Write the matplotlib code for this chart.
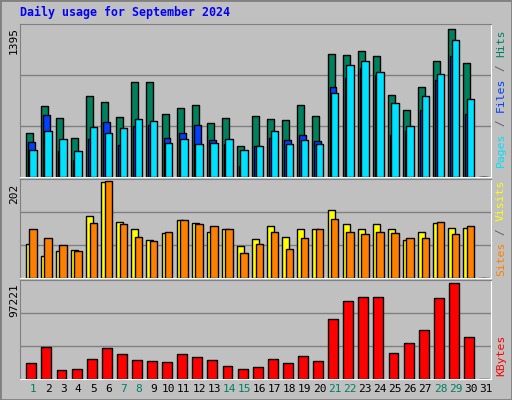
import numpy as np
import matplotlib
matplotlib.use("Agg")
import matplotlib.pyplot as plt
from matplotlib.patches import Rectangle

days = list(range(1, 32))
hits = [418, 674, 560, 370, 769, 712, 569, 892, 892, 598, 655, 683, 512, 560, 294,
        579, 550, 541, 683, 579, 1158, 1148, 1186, 1139, 778, 636, 854, 1091, 1395, 1072, 0]
files = [256, 436, 361, 247, 474, 418, 465, 550, 531, 323, 361, 313, 323, 361, 256,
         294, 436, 313, 351, 313, 797, 1053, 1091, 987, 702, 484, 769, 968, 1290, 740, 0]
pages = [332, 588, 247, 161, 361, 522, 304, 484, 493, 370, 418, 493, 351, 313, 104,
         294, 370, 351, 399, 342, 845, 930, 1025, 958, 399, 436, 636, 911, 1139, 598, 0]
visits = [70, 46, 57, 59, 129, 199, 116, 103, 79, 94, 120, 114, 96, 101, 66,
          81, 109, 85, 101, 103, 142, 112, 101, 112, 101, 79, 96, 114, 105, 105, 0]
sites = [103, 83, 68, 57, 114, 202, 112, 85, 77, 96, 120, 112, 109, 101, 52,
         70, 96, 61, 83, 101, 122, 96, 92, 96, 94, 83, 83, 116, 92, 109, 0]
kbytes = [16376, 32396, 8900, 9968, 20648, 31328, 24920, 19580, 18512, 17444, 24920,
          22784, 19580, 13172, 9968, 12104, 20648, 16376, 23852, 18512, 61232, 79388,
          83660, 83660, 25988, 36668, 49484, 82592, 97221, 43076, 0]
weekend = [1, 7, 8, 14, 15, 21, 22, 28, 29]

W, H = 512, 400
BG = "#C0C0C0"
MONO = "DejaVu Sans Mono"
fig = plt.figure(figsize=(W / 100, H / 100), dpi=100, facecolor=BG)

# outer bevel
fig.patches.append(Rectangle((0, 0), 1, 1, transform=fig.transFigure, fill=False,
                             edgecolor="#808080", linewidth=2))


def px_axes(x0, y0, x1, y1):
    return fig.add_axes([x0 / W, 1 - y1 / H, (x1 - x0) / W, (y1 - y0) / H])


x = np.array(days, dtype=float)
xlim = (0.139, 31.35)


def style(ax, top):
    ax.set_facecolor(BG)
    ax.set_xlim(*xlim)
    ax.set_ylim(0, top * 1.0)
    ax.set_xticks([])
    ax.set_yticks([])
    for s in ("top", "left"):
        ax.spines[s].set_color("#808080")
    for s in ("bottom", "right"):
        ax.spines[s].set_color("white")
    for f in (1 / 3, 2 / 3):
        ax.axhline(top * f, color="#808080", lw=1, zorder=0)


bar_kw = dict(edgecolor="black", linewidth=1, align="edge", zorder=2)

# top panel
ax1 = px_axes(20, 24, 491, 177)
style(ax1, 1395 * 1.035)
ax1.bar(x - 0.48, hits, 0.46, color="#00805C", **bar_kw)
ax1.bar(x - 0.35, pages, 0.46, color="#0040FF", **bar_kw)
ax1.bar(x - 0.25, files, 0.49, color="#00E0FF", **bar_kw)

# middle panel
ax2 = px_axes(20, 179, 491, 278)
style(ax2, 202 * 1.02)
ax2.bar(x - 0.48, visits, 0.46, color="#FFFF00", **bar_kw)
ax2.bar(x - 0.25, sites, 0.49, color="#FF8000", **bar_kw)

# bottom panel
ax3 = px_axes(20, 280, 491, 379)
style(ax3, 97221 * 1.035)
ax3.bar(x - 0.44, kbytes, 0.66, color="#FF0000", **bar_kw)

fig.text(20 / W, 1 - 16 / H, "Daily usage for September 2024", color="#0000FF",
         fontsize=8.4, fontweight="bold", family=MONO, va="baseline")

# left max labels
for lbl, ytop in (("1395", 27), ("202", 184), ("97221", 283)):
    fig.text(14 / W, 1 - ytop / H, lbl, rotation=90, fontsize=8, family=MONO,
             ha="center", va="top", color="black")


def right_label(parts, ybottom):
    cw = 6.85
    y = ybottom
    for txt, col in parts:
        fig.text(501 / W, 1 - y / H, txt, rotation=90, fontsize=8.2, family=MONO,
                 color=col, ha="center", va="bottom")
        y -= cw * len(txt)


right_label([("Pages", "#00E0FF"), (" / ", "#606060"), ("Files", "#0040FF"),
             (" / ", "#606060"), ("Hits", "#00805C")], 167)
right_label([("Sites", "#FF8000"), (" / ", "#606060"), ("Visits", "#FFFF00")], 276)
right_label([("KBytes", "#FF0000")], 376)

# day labels
for d in days:
    px = 33 + 15.09 * (d - 1)
    fig.text(px / W, 1 - 389 / H, str(d), fontsize=8, family=MONO, ha="center",
             va="center", color="#00805C" if d in weekend else "black")

fig.savefig("out.png", dpi=100, facecolor=BG)
